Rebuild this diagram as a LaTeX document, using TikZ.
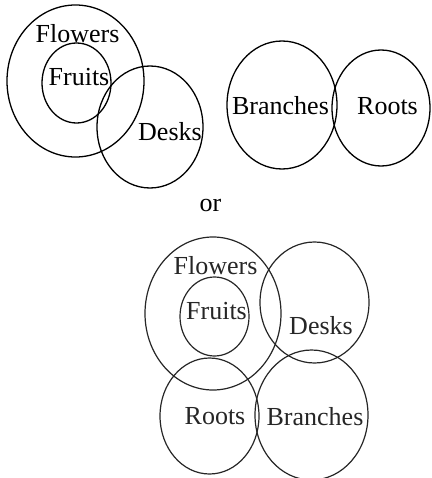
\documentclass[tikz,border=0pt]{standalone}
\usepackage{fontspec}
\setmainfont{Liberation Serif}
\begin{document}
\begin{tikzpicture}[x=1pt,y=-1pt,
  ring/.style={draw=black, line width=1.3pt},
  ringb/.style={draw=black!85, line width=1.2pt},
  lbl/.style={inner sep=0pt, font=\fontsize{26}{30}\selectfont, text=black},
  lblb/.style={inner sep=0pt, font=\fontsize{26}{30}\selectfont, text=black!85}]
\useasboundingbox (0,0) rectangle (431,478);
% top left
\draw[ring] (75.5,81) ellipse [x radius=68.5pt, y radius=76pt];
\draw[ring] (76.5,83) ellipse [x radius=34.5pt, y radius=40pt];
\draw[ring] (150,127) ellipse [x radius=53pt, y radius=61pt];
\node[lbl] (f1) at (77.5,34) {Flowers};
\node[lbl] (fr1) at (79,77.5) {Fruits};
\node[lbl] (d1) at (170,131.5) {Desks};
% top right
\draw[ring] (282,105) ellipse [x radius=55pt, y radius=64pt];
\draw[ring] (381,108) ellipse [x radius=49pt, y radius=58pt];
\node[lbl] (b1) at (280.5,106) {Branches};
\node[lbl] (r1) at (387.5,106) {Roots};
% or
\node[lbl] (or) at (210.5,206) {or};
% bottom
\draw[ringb] (213,313.5) ellipse [x radius=68pt, y radius=76.5pt];
\draw[ringb] (214.5,316.5) ellipse [x radius=34.5pt, y radius=39.5pt];
\draw[ringb] (314.5,302.5) ellipse [x radius=54.5pt, y radius=60.5pt];
\draw[ringb] (209.5,416) ellipse [x radius=49.5pt, y radius=58pt];
\draw[ringb] (311.5,415) ellipse [x radius=56.5pt, y radius=65pt];
\node[lblb] (f2) at (215.5,266) {Flowers};
\node[lblb] (fr2) at (216.5,311) {Fruits};
\node[lblb] (d2) at (321,326) {Desks};
\node[lblb] (r2) at (215,416.5) {Roots};
\node[lblb] (b2) at (315,416.5) {Branches};
\end{tikzpicture}
\end{document}
